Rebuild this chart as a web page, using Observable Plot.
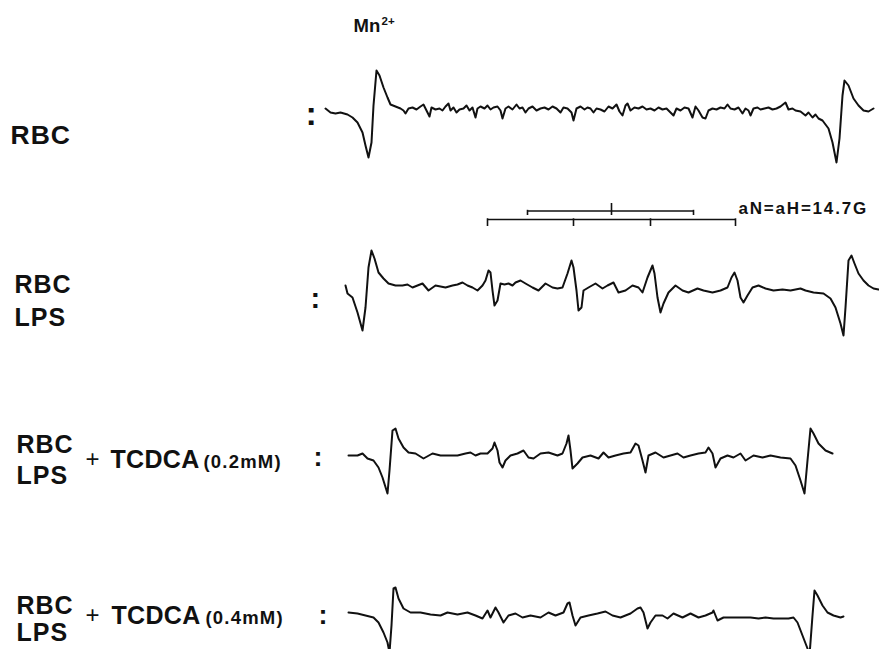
<!DOCTYPE html>
<html>
<head>
<meta charset="utf-8">
<script src="https://cdn.jsdelivr.net/npm/d3@7"></script>
<script src="https://cdn.jsdelivr.net/npm/@observablehq/plot@0.6"></script>
<style>
  html, body { margin: 0; padding: 0; background: #fff; }
  #chart svg { display: block; background: #fff; }
</style>
</head>
<body>
<div id="chart"></div>
<script>
// ---------------- DATA ----------------
// Each spectrum: [field position, signal deflection] pairs
const traceRBC = [[325,1],[330,-3],[335,-4],[340,-3],[347,-5],[352,-8],[357,-13],[362,-23],[365,-36],[368,-48],[371,-33],[373,4],[376,39],[379,34],[383,22],[387,12],[390,5],[395,3],[400,1],[403,-1],[405,-4],[408,1],[412,2],[416,0],[420,3],[423,5],[426,-1],[429,-7],[431,2],[435,0],[439,1],[442,-1],[445,3],[448,6],[450,-1],[453,2],[456,-3],[459,0],[463,1],[466,4],[469,-1],[472,2],[475,-8],[477,1],[480,3],[484,1],[487,4],[490,0],[493,2],[497,3],[500,-1],[502,-9],[505,1],[508,3],[512,0],[516,5],[519,1],[522,2],[525,-3],[528,1],[532,3],[536,-1],[540,1],[544,2],[548,0],[552,3],[556,1],[560,-3],[563,2],[567,1],[571,-3],[573,-11],[576,1],[580,3],[584,0],[587,2],[590,1],[593,-3],[596,1],[600,0],[604,-2],[608,3],[612,1],[616,5],[619,-2],[622,-6],[625,4],[627,6],[630,-1],[634,2],[638,1],[642,3],[646,0],[650,1],[654,-1],[658,2],[662,0],[666,1],[670,-3],[673,-6],[676,1],[680,-1],[684,2],[688,1],[692,-8],[695,3],[698,-1],[702,-8],[705,-9],[708,-1],[712,1],[716,0],[720,2],[724,1],[727,5],[730,1],[734,0],[738,2],[742,-4],[745,1],[748,-1],[750,-6],[753,1],[757,2],[760,0],[764,1],[768,2],[772,0],[776,1],[780,3],[785,7],[788,0],[792,1],[795,-1],[800,-2],[805,-6],[808,-3],[812,-8],[815,-5],[818,-9],[822,-11],[828,-19],[832,-33],[836,-53],[839,-29],[842,14],[844,29],[848,24],[853,11],[858,4],[863,-1],[868,-2],[873,1]];

const traceRBCLPS = [[345,1],[347,-7],[352,-11],[357,-26],[362,-44],[365,-21],[368,19],[371,36],[374,28],[378,14],[383,8],[388,3],[395,1],[402,1],[407,2],[412,-1],[417,1],[422,3],[428,-4],[435,1],[440,0],[445,-1],[452,1],[457,2],[462,4],[467,1],[472,-1],[477,-4],[482,1],[485,6],[488,16],[490,14],[492,-4],[494,-19],[497,-14],[500,3],[504,2],[508,3],[512,1],[515,4],[520,6],[525,3],[532,-1],[538,-4],[545,3],[552,-1],[557,-2],[562,-1],[567,13],[571,26],[573,19],[576,-4],[578,-24],[581,-21],[583,-4],[588,-1],[595,3],[602,-2],[607,1],[613,4],[618,-6],[625,-4],[632,1],[638,-1],[642,-6],[647,9],[652,21],[654,13],[657,-11],[660,-26],[663,-17],[668,-6],[675,1],[682,-4],[688,-6],[697,-2],[703,-4],[712,-6],[720,-4],[727,-1],[731,9],[734,14],[737,6],[740,-11],[743,-16],[747,-9],[752,-1],[758,1],[765,-2],[773,-4],[782,-3],[790,-4],[800,-2],[805,-4],[813,-6],[823,-7],[830,-12],[835,-21],[840,-37],[843,-49],[845,-21],[848,26],[851,31],[854,23],[858,13],[863,6],[868,1],[873,-2],[878,-3]];

const traceTCDCA02 = [[348,0],[357,0],[362,2],[367,-3],[373,-5],[378,-12],[382,-22],[387,-38],[389,-15],[392,25],[395,27],[398,17],[403,8],[408,3],[415,2],[423,-3],[432,2],[440,0],[448,0],[457,0],[465,2],[470,3],[475,0],[480,2],[487,2],[492,7],[494,13],[497,5],[499,-7],[502,-12],[505,-5],[510,0],[517,2],[523,5],[528,-2],[533,-3],[540,2],[548,3],[557,0],[562,2],[566,12],[568,20],[570,5],[572,-13],[577,-8],[582,-2],[590,0],[598,-3],[603,3],[608,-2],[615,0],[623,2],[630,3],[635,12],[638,10],[642,-5],[645,-17],[648,0],[655,3],[663,-2],[670,0],[677,2],[683,-2],[690,0],[698,2],[705,3],[708,8],[712,2],[715,-12],[720,-3],[727,0],[733,-2],[740,2],[745,-5],[753,0],[762,-2],[770,0],[780,-2],[790,-3],[795,-10],[800,-25],[804,-38],[807,-5],[810,27],[813,22],[818,12],[825,5],[832,2]];

const traceTCDCA04 = [[348,2],[357,1],[365,-1],[373,-3],[378,-8],[383,-18],[387,-28],[389,-38],[391,-11],[393,26],[395,27],[398,16],[403,6],[410,2],[420,2],[430,0],[440,-1],[447,2],[457,0],[467,2],[475,-1],[482,-4],[487,4],[490,-3],[495,7],[498,2],[503,-8],[508,-1],[515,1],[522,-3],[530,-1],[540,-3],[548,2],[555,-1],[563,2],[567,11],[569,12],[572,-1],[575,-11],[580,-3],[588,-1],[597,1],[605,3],[612,-1],[620,-3],[630,1],[637,6],[640,7],[643,2],[647,-14],[650,-8],[655,-1],[662,-1],[667,-4],[673,1],[682,-3],[690,1],[698,-3],[705,-1],[712,2],[713,4],[717,-6],[723,-3],[730,-3],[740,-3],[750,-3],[758,-4],[765,-3],[773,-4],[780,-4],[788,-4],[793,-3],[797,-8],[802,-21],[807,-34],[809,-41],[812,-1],[814,24],[817,19],[822,9],[827,2],[833,-1],[840,-3],[843,-2]];

// stick diagram of the quartet (field positions)
const stickLines = [487, 573, 650, 735];
const stickParents = [527, 693];
const stickCenter = [611];

// texts
const sampleLines = [["RBC"], ["RBC", "LPS"], ["RBC", "LPS"], ["RBC", "LPS"]];
const treatments = ["", "", "TCDCA", "TCDCA"];
const concentrations = ["", "", "(0.2mM)", "(0.4mM)"];
const hfcLabel = "aN=aH=14.7G";
const mnLabel = ["Mn", "2+"];

// ---------------- LAYOUT ----------------
const W = 879, H = 649;
const traces = [traceRBC, traceRBCLPS, traceTCDCA02, traceTCDCA04];
const traceLevel = [540, 363, 194, 35];
const FONT = "'Liberation Sans', Arial, Helvetica, sans-serif";

const lineData = traces.flatMap((t, i) =>
  t.map(([f, s]) => ({row: i, field: f, sig: traceLevel[i] + s})));

const txt = (label, x, y, size, opts = {}) =>
  Plot.text([label], {x: () => x, y: () => y, text: d => d, textAnchor: "start",
    lineAnchor: "bottom", fontSize: size, fontWeight: "bold", fontFamily: FONT,
    fill: "#111", ...opts});

const marks = [
  Plot.line(lineData, {x: "field", y: "sig", z: "row", stroke: "#111",
    strokeWidth: 2, strokeLinejoin: "round", strokeLinecap: "round", curve: "linear"}),
  // stick diagram
  Plot.ruleY([430], {x1: stickLines[0], x2: stickLines[stickLines.length - 1], stroke: "#111", strokeWidth: 1.6}),
  Plot.ruleX(stickLines, {y1: 423, y2: 430.7, stroke: "#111", strokeWidth: 1.6}),
  Plot.ruleY([438.5], {x1: stickParents[0], x2: stickParents[1], stroke: "#111", strokeWidth: 1.6}),
  Plot.ruleX(stickParents, {y1: 434, y2: 439.2, stroke: "#111", strokeWidth: 1.6}),
  Plot.ruleX(stickCenter, {y1: 434, y2: 446, stroke: "#111", strokeWidth: 1.6}),
  // Mn label
  txt(mnLabel[0], 353, 618, 18.5),
  txt(mnLabel[1], 381, 625, 11.5),
  // hyperfine label
  txt(hfcLabel, 738, 436, 17),
  // row 1
  txt(sampleLines[0][0], 10, 506, 26.5),
  txt(":", 305, 525, 34),
  // row 2
  txt(sampleLines[1][0], 14, 357, 25),
  txt(sampleLines[1][1], 14, 324, 25),
  txt(":", 310, 342, 29),
  // row 3
  txt(sampleLines[2][0], 16, 197, 25),
  txt(sampleLines[2][1], 16, 166, 25),
  txt("+", 85, 183, 24, {fontWeight: "normal"}),
  txt(treatments[2], 110, 182, 25),
  txt(concentrations[2], 203, 182, 18.5),
  txt(":", 313, 184, 27),
  // row 4
  txt(sampleLines[3][0], 16, 36, 25),
  txt(sampleLines[3][1], 16, 9, 25),
  txt("+", 85, 27, 24, {fontWeight: "normal"}),
  txt(treatments[3], 111, 26, 25),
  txt(concentrations[3], 205, 26, 18.5),
  txt(":", 318, 26, 27)
];

const chart = Plot.plot({
  width: W, height: H,
  marginTop: 0, marginRight: 0, marginBottom: 0, marginLeft: 0,
  x: {domain: [0, W], range: [0, W], axis: null},
  y: {domain: [0, H], range: [H, 0], axis: null},
  style: {background: "#fff", overflow: "hidden"},
  marks
});

// letter spacing for the spaced-out bold labels
chart.querySelectorAll("text").forEach(t => {
  const s = t.textContent;
  if (s === hfcLabel) t.setAttribute("letter-spacing", "1.8");
  if (concentrations.includes(s) && s) t.setAttribute("letter-spacing", "1.2");
  if (s === "TCDCA") t.setAttribute("letter-spacing", "0.3");
  if (s === "RBC" || s === "LPS") t.setAttribute("letter-spacing", "1");
});

document.getElementById("chart").appendChild(chart);
</script>
</body>
</html>
